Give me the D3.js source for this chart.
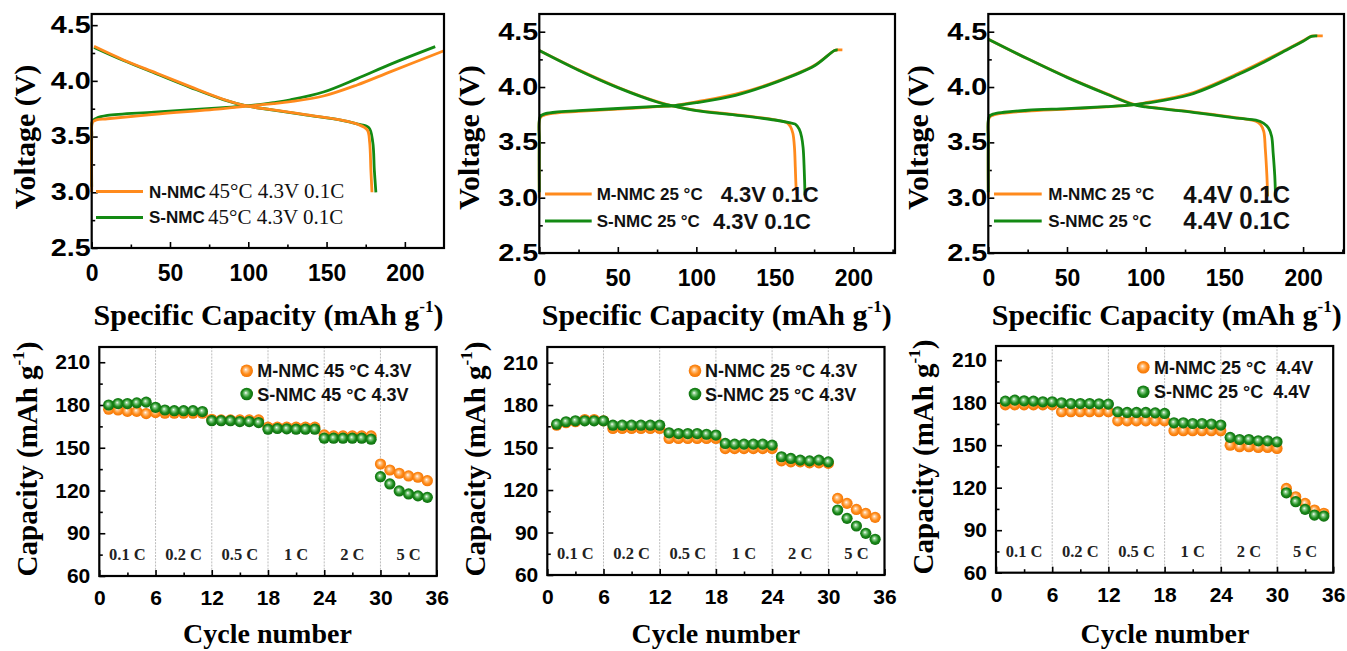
<!DOCTYPE html>
<html><head><meta charset="utf-8">
<script src="https://cdn.jsdelivr.net/npm/d3@7"></script>
<style>
body{margin:0;background:#fff;}
svg{display:block;}
</style></head><body>
<svg id="c" width="1347" height="651"></svg>
<script>
// ================= DATA =================
const voltTicks = [2.5, 3.0, 3.5, 4.0, 4.5];
const voltMinor = [2.75, 3.25, 3.75, 4.25];
const capTicks = [0, 50, 100, 150, 200];
const capMinor = [25, 75, 125, 175, 225];
const cycTicks = [0, 6, 12, 18, 24, 30, 36];
const cycMinor = [3, 9, 15, 21, 27, 33];
const capyTicks = [60, 90, 120, 150, 180, 210];
const capyMinor = [75, 105, 135, 165, 195];
const rateLabels = ["0.1 C", "0.2 C", "0.5 C", "1 C", "2 C", "5 C"];
const rateCenters = [3, 9, 15, 21, 27, 33];
const rateBounds = [6, 12, 18, 24, 30];
const cycles = [1,2,3,4,5,6,7,8,9,10,11,12,13,14,15,16,17,18,19,20,21,22,23,24,25,26,27,28,29,30,31,32,33,34,35];

// Panel A: 45 °C 4.3 V 0.1C (capacity mAh/g, voltage V)
const aOrangeCharge = [[0,3.0],[0,3.5],[0.5,3.63],[3,3.65],[10,3.66],[40,3.70],[84,3.75],[99,3.773],[116,3.795],[127,3.813],[148,3.864],[169.5,3.963],[191,4.083],[225,4.27]];
const aGreenCharge  = [[0,3.05],[0,3.5],[0.5,3.64],[3,3.665],[10,3.69],[40,3.72],[84,3.76],[99,3.775],[116,3.805],[127,3.83],[148,3.90],[169.5,4.02],[191,4.15],[219.4,4.307]];
const aOrangeDisch  = [[1.5,4.31],[20,4.19],[41.6,4.068],[62.9,3.948],[84,3.835],[99,3.775],[116,3.74],[137.5,3.694],[159,3.649],[170,3.61],[176,3.56],[177.5,3.45],[178.3,3.2],[179,3.0]];
const aGreenDisch   = [[1.5,4.30],[20,4.185],[41.6,4.062],[62.9,3.942],[84,3.832],[99,3.775],[116,3.738],[137.5,3.692],[159,3.648],[170,3.612],[177,3.58],[179.5,3.45],[180.5,3.2],[181.5,3.0]];

// Panel B: 25 °C 4.3 V 0.1C
const bOrangeCharge = [[0,3.0],[0,3.5],[0.5,3.72],[3,3.745],[10,3.765],[25,3.78],[50,3.80],[75,3.822],[85,3.83],[100,3.866],[125,3.935],[150,4.045],[175,4.195],[188,4.33],[190,4.335],[193,4.335]];
const bGreenCharge  = [[0,3.05],[0,3.5],[0.5,3.73],[3,3.755],[10,3.772],[25,3.786],[50,3.806],[75,3.825],[85,3.83],[100,3.858],[125,3.925],[150,4.04],[175,4.19],[188,4.33],[190,4.335]];
const bOrangeDisch  = [[0,4.33],[25,4.155],[50,3.998],[75,3.868],[85,3.829],[100,3.79],[125,3.75],[150,3.704],[158,3.675],[160,3.64],[161.5,3.58],[162.5,3.45],[163,3.28],[163.5,3.1],[164,3.02]];
const bGreenDisch   = [[0,4.33],[25,4.152],[50,3.995],[75,3.865],[85,3.829],[100,3.786],[125,3.747],[150,3.702],[160,3.675],[163,3.665],[165.5,3.62],[167,3.55],[168,3.45],[168.7,3.25],[169.2,3.02]];

// Panel C: 25 °C 4.4 V 0.1C
const cOrangeCharge = [[0,3.0],[0,3.5],[0.5,3.72],[3,3.745],[10,3.765],[25,3.782],[50,3.80],[75,3.82],[92,3.84],[100,3.858],[128,3.94],[159.8,4.13],[175,4.235],[191.6,4.355],[200,4.418],[205.3,4.46],[207,4.462],[212.5,4.462]];
const cGreenCharge  = [[0,3.05],[0,3.5],[0.5,3.73],[3,3.755],[10,3.772],[25,3.79],[50,3.805],[75,3.822],[92,3.838],[100,3.854],[128,3.93],[159.8,4.12],[175,4.225],[191.6,4.35],[200,4.413],[205.3,4.458],[209,4.462]];
const cOrangeDisch  = [[0,4.432],[25,4.255],[50,4.09],[75,3.94],[92,3.845],[100,3.822],[128,3.778],[159.8,3.718],[170,3.692],[173,3.66],[175,3.6],[176,3.44],[177,3.2],[177.5,3.01]];
const cGreenDisch   = [[0,4.432],[25,4.255],[50,4.087],[75,3.937],[92,3.842],[100,3.82],[128,3.776],[159.8,3.716],[170,3.70],[175,3.672],[178,3.63],[180,3.555],[181,3.4],[182,3.2],[182.5,3.01]];

// Rate capability (mAh/g) for cycles 1..35
const dOrange = [177,176.5,175.5,175.5,174,174.7,174.2,174.2,174.2,174.2,174.2,170,169.5,169.5,169.5,169.5,169.5,164.5,164.5,164.5,164.5,164.5,164.5,159,158.3,158.3,158.3,158.3,158.3,138.6,134.4,132.1,130.2,129.3,126.9];
const dGreen  = [180,181,181,181.5,182,178.4,176.5,176,176,176,175.4,169,169,169,168.4,168.4,167.7,163,163.5,163.3,163,163,163,156.7,156.7,156.7,156.7,156.7,156,129.7,124.6,119.7,117.6,116.2,115.2];
const eOrange = [165.8,167.5,168.2,169.8,169.8,168.9,163.5,163.5,163.5,163.5,163.5,163.5,156.4,156.4,156.4,156.4,156.4,156.4,149.3,149.3,149.3,149.3,149.3,149.3,140.6,139.9,139.9,139.2,139.2,138.8,114.1,110.6,106.3,103.5,100.7];
const eGreen  = [166.5,168.2,168.9,168.9,168.9,168.9,165.8,165.8,165.8,165.8,165.8,165.8,160.4,159.9,159.9,159.9,159.4,158.8,152.9,152.4,152.4,152.4,152.4,151.7,143.5,142.3,141.1,140.6,141.1,139.9,105.9,100,94.6,89.4,85.2];
const fOrange = [178.5,178.5,178.5,178.5,178.5,178.5,173.6,173.6,173.6,173.6,173.6,173.6,167.2,167.2,167.2,167.2,167.2,167.2,160.2,160.2,160.2,160.2,160.2,160.2,150,148.9,148.9,148.4,148.4,147.7,119.5,113.6,108.9,104.2,101.9];
const fGreen  = [181.1,181.8,181.3,181.1,180.6,180.6,179.9,179.4,179.4,179.4,179.2,179,173.6,173.1,173.1,173.1,172.8,172.4,165.8,165.8,165.3,165.3,164.9,164.2,155.5,154,154,153.1,153.1,152.4,116.4,110.1,104.7,100.7,100];

// ================= STYLE =================
const ORANGE = "#ff8a1c";
const GREEN = "#138a13";
const SANS = "'Liberation Sans', Arial, sans-serif";
const SERIF = "'Liberation Serif', 'Times New Roman', serif";

const svg = d3.select("#c");
const defs = svg.append("defs");
function ballGrad(id, c0, c1, c2) {
  const g = defs.append("radialGradient").attr("id", id)
    .attr("cx", "50%").attr("cy", "50%").attr("r", "55%").attr("fx", "42%").attr("fy", "40%");
  g.append("stop").attr("offset", "0%").attr("stop-color", "#ffffff");
  g.append("stop").attr("offset", "22%").attr("stop-color", c0);
  g.append("stop").attr("offset", "60%").attr("stop-color", c1);
  g.append("stop").attr("offset", "100%").attr("stop-color", c2);
}
ballGrad("gOr", "#ffc890", "#ff8c1a", "#f07000");
ballGrad("gGr", "#8fcf8f", "#1c8c1c", "#0a650a");

// ================= TOP PANELS =================
function topPanel(cfg) {
  const x = d3.scaleLinear().domain(cfg.xDom).range([cfg.L, cfg.R]);
  const y = d3.scaleLinear().domain(cfg.yDom).range([cfg.B, cfg.T]);
  const g = svg.append("g");
  const line = d3.line().x(d => x(d[0])).y(d => y(d[1])).curve(d3.curveCatmullRom.alpha(0.5));

  const xa = g.append("g").attr("transform", `translate(0,${cfg.B})`)
    .call(d3.axisBottom(x).tickValues(capTicks).tickSize(-6).tickPadding(17).tickFormat(d3.format("d")));
  g.append("g").attr("transform", `translate(0,${cfg.B})`)
    .call(d3.axisBottom(x).tickValues(capMinor.filter(v => v < cfg.xDom[1])).tickSize(-3.5).tickFormat(""));
  const ya = g.append("g").attr("transform", `translate(${cfg.L},0)`)
    .call(d3.axisLeft(y).tickValues(voltTicks).tickSize(-6).tickPadding(1).tickFormat(d3.format(".1f")));
  g.append("g").attr("transform", `translate(${cfg.L},0)`)
    .call(d3.axisLeft(y).tickValues(voltMinor).tickSize(-3.5).tickFormat(""));
  g.selectAll(".domain").remove();
  g.selectAll(".tick line").attr("stroke", "#000").attr("stroke-width", 1.6);
  xa.selectAll("text").attr("font-family", SANS).attr("font-weight", "bold").attr("font-size", 23).attr("fill", "#000");
  ya.selectAll("text").attr("font-family", SANS).attr("font-weight", "bold").attr("font-size", 23).attr("fill", "#000")
    .attr("textLength", 40).attr("lengthAdjust", "spacingAndGlyphs");

  cfg.series.forEach(s => {
    g.append("path").datum(s.data).attr("d", line).attr("fill", "none")
      .attr("stroke", s.color).attr("stroke-width", 2.8).attr("stroke-linejoin", "round");
  });

  g.append("rect").attr("x", cfg.L).attr("y", cfg.T).attr("width", cfg.R - cfg.L).attr("height", cfg.B - cfg.T)
    .attr("fill", "none").attr("stroke", "#000").attr("stroke-width", 2.2);

  cfg.legend.forEach(l => {
    g.append("line").attr("x1", l.lx1).attr("x2", l.lx2).attr("y1", l.ly).attr("y2", l.ly)
      .attr("stroke", l.color).attr("stroke-width", 3);
    l.texts.forEach(t => {
      g.append("text").attr("x", t.x).attr("y", t.y).text(t.s)
        .attr("font-family", t.serif ? SERIF : SANS).attr("font-weight", t.w || "bold")
        .attr("font-size", t.fs).attr("fill", "#111");
    });
  });

  const xt = g.append("text").attr("x", cfg.xtX).attr("y", 325).attr("text-anchor", "middle")
    .attr("font-family", SERIF).attr("font-weight", "bold").attr("font-size", 30).attr("fill", "#000");
  xt.append("tspan").text("Specific Capacity (mAh g");
  xt.append("tspan").attr("font-size", 17).attr("dy", -13).text("-1");
  xt.append("tspan").attr("dy", 13).text(")");
  g.append("text").attr("transform", `translate(${cfg.ytX},${cfg.ytY}) rotate(-90)`).attr("text-anchor", "middle")
    .attr("font-family", SERIF).attr("font-weight", "bold").attr("font-size", 30).attr("fill", "#000")
    .text("Voltage (V)");
}

topPanel({
  L: 91.7, R: 444, T: 14, B: 248, xDom: [0, 225], yDom: [2.5, 4.6],
  series: [
    {data: aGreenCharge, color: GREEN}, {data: aGreenDisch, color: GREEN},
    {data: aOrangeCharge, color: ORANGE}, {data: aOrangeDisch, color: ORANGE}
  ],
  legend: [
    {lx1: 96, lx2: 143, ly: 191.5, color: ORANGE, texts: [
      {x: 149, y: 197.5, s: "N-NMC", fs: 17}, {x: 209, y: 198, s: "45°C 4.3V 0.1C", fs: 21, serif: true, w: "normal"}]},
    {lx1: 96, lx2: 143, ly: 217.5, color: GREEN, texts: [
      {x: 149, y: 223, s: "S-NMC", fs: 17}, {x: 208, y: 223.5, s: "45°C 4.3V 0.1C", fs: 21, serif: true, w: "normal"}]}
  ],
  xtX: 268.5, ytX: 35, ytY: 137
});

topPanel({
  L: 539.3, R: 895, T: 14, B: 253, xDom: [0, 226.5], yDom: [2.5, 4.66],
  series: [
    {data: bOrangeCharge, color: ORANGE}, {data: bOrangeDisch, color: ORANGE},
    {data: bGreenCharge, color: GREEN}, {data: bGreenDisch, color: GREEN}
  ],
  legend: [
    {lx1: 545, lx2: 591.7, ly: 194, color: ORANGE, texts: [
      {x: 596.7, y: 200, s: "M-NMC 25 °C", fs: 17}, {x: 720.7, y: 201.5, s: "4.3V 0.1C", fs: 22}]},
    {lx1: 545, lx2: 591.7, ly: 221, color: GREEN, texts: [
      {x: 596.7, y: 227, s: "S-NMC 25 °C", fs: 17}, {x: 713, y: 228.5, s: "4.3V 0.1C", fs: 22}]}
  ],
  xtX: 716.7, ytX: 478.5, ytY: 137.5
});

topPanel({
  L: 988.3, R: 1344, T: 14, B: 253, xDom: [0, 226], yDom: [2.5, 4.66],
  series: [
    {data: cOrangeCharge, color: ORANGE}, {data: cOrangeDisch, color: ORANGE},
    {data: cGreenCharge, color: GREEN}, {data: cGreenDisch, color: GREEN}
  ],
  legend: [
    {lx1: 994, lx2: 1041.7, ly: 194, color: ORANGE, texts: [
      {x: 1048.3, y: 200, s: "M-NMC 25 °C", fs: 17}, {x: 1183.3, y: 203, s: "4.4V 0.1C", fs: 24}]},
    {lx1: 994, lx2: 1041.7, ly: 221, color: GREEN, texts: [
      {x: 1048.3, y: 227, s: "S-NMC 25 °C", fs: 17}, {x: 1183.3, y: 229, s: "4.4V 0.1C", fs: 24}]}
  ],
  xtX: 1166.7, ytX: 928.3, ytY: 137.5
});

// ================= BOTTOM PANELS =================
function botPanel(cfg) {
  const x = d3.scaleLinear().domain([0, 36]).range([cfg.L, cfg.R]);
  const y = d3.scaleLinear().domain(cfg.yDom).range([cfg.B, cfg.T]);
  const g = svg.append("g");

  g.selectAll(".sep").data(rateBounds).enter().append("line")
    .attr("x1", d => x(d)).attr("x2", d => x(d)).attr("y1", cfg.T).attr("y2", cfg.B)
    .attr("stroke", "#b5b5b5").attr("stroke-width", 0.9).attr("stroke-dasharray", "2,1.2");

  g.append("g").attr("transform", `translate(0,${cfg.B})`)
    .call(d3.axisBottom(x).tickValues(cycTicks).tickSize(-6).tickPadding(14));
  g.append("g").attr("transform", `translate(0,${cfg.B})`)
    .call(d3.axisBottom(x).tickValues(cycMinor).tickSize(-3.5).tickFormat(""));
  g.append("g").attr("transform", `translate(${cfg.L},0)`)
    .call(d3.axisLeft(y).tickValues(capyTicks).tickSize(-6).tickPadding(9));
  g.append("g").attr("transform", `translate(${cfg.L},0)`)
    .call(d3.axisLeft(y).tickValues(capyMinor).tickSize(-3.5).tickFormat(""));
  g.selectAll(".domain").remove();
  g.selectAll(".tick line").attr("stroke", "#000").attr("stroke-width", 1.6);
  g.selectAll(".tick text").attr("font-family", SANS).attr("font-weight", "bold").attr("font-size", 21).attr("fill", "#000");

  g.selectAll(".rl").data(rateLabels).enter().append("text")
    .attr("x", (d, i) => x(rateCenters[i])).attr("y", cfg.B - 16).attr("text-anchor", "middle")
    .attr("font-family", SERIF).attr("font-weight", "bold").attr("font-size", 16.5).attr("fill", "#222")
    .text(d => d);

  [[cfg.orange, "url(#gOr)"], [cfg.green, "url(#gGr)"]].forEach(([vals, fill]) => {
    g.selectAll(null).data(vals).enter().append("circle")
      .attr("cx", (d, i) => x(cycles[i])).attr("cy", d => y(d)).attr("r", 5.6).attr("fill", fill);
  });

  g.append("rect").attr("x", cfg.L).attr("y", cfg.T).attr("width", cfg.R - cfg.L).attr("height", cfg.B - cfg.T)
    .attr("fill", "none").attr("stroke", "#000").attr("stroke-width", 2.2);

  cfg.legend.forEach(l => {
    g.append("circle").attr("cx", l.mx).attr("cy", l.my).attr("r", 6.3).attr("fill", l.fill);
    g.append("text").attr("x", l.tx).attr("y", l.my + 6.5).text(l.s)
      .attr("font-family", SANS).attr("font-weight", "bold").attr("font-size", 18).attr("fill", "#111")
      .attr("xml:space", "preserve");
  });

  g.append("text").attr("x", cfg.xtX).attr("y", 643).attr("text-anchor", "middle")
    .attr("font-family", SERIF).attr("font-weight", "bold").attr("font-size", 28).attr("fill", "#000")
    .text("Cycle number");
  const yt = g.append("text").attr("transform", `translate(${cfg.ytX},${cfg.ytY}) rotate(-90)`).attr("text-anchor", "middle")
    .attr("font-family", SERIF).attr("font-weight", "bold").attr("font-size", 29).attr("fill", "#000");
  yt.append("tspan").text("Capacity (mAh g");
  yt.append("tspan").attr("font-size", 17).attr("dy", -13).text("-1");
  yt.append("tspan").attr("dy", 13).text(")");
}

botPanel({
  L: 99.3, R: 436.7, T: 347, B: 576, yDom: [60, 220.7],
  orange: dOrange, green: dGreen,
  legend: [
    {mx: 246.7, my: 370.7, fill: "url(#gOr)", tx: 257.3, s: "M-NMC 45 °C 4.3V"},
    {mx: 246.7, my: 394, fill: "url(#gGr)", tx: 257.3, s: "S-NMC 45 °C 4.3V"}
  ],
  xtX: 267.5, ytX: 36.5, ytY: 459
});
botPanel({
  L: 547.3, R: 884.5, T: 347, B: 575, yDom: [60, 221],
  orange: eOrange, green: eGreen,
  legend: [
    {mx: 695, my: 370.7, fill: "url(#gOr)", tx: 705, s: "N-NMC 25 °C 4.3V"},
    {mx: 695, my: 394, fill: "url(#gGr)", tx: 705, s: "S-NMC 25 °C 4.3V"}
  ],
  xtX: 715.8, ytX: 485, ytY: 459
});
botPanel({
  L: 996, R: 1333.2, T: 346, B: 572.7, yDom: [60, 220],
  orange: fOrange, green: fGreen,
  legend: [
    {mx: 1143.3, my: 367.3, fill: "url(#gOr)", tx: 1154, s: "M-NMC 25 °C  4.4V"},
    {mx: 1143.3, my: 391.7, fill: "url(#gGr)", tx: 1154, s: "S-NMC 25 °C  4.4V"}
  ],
  xtX: 1165, ytX: 933.3, ytY: 457
});
</script>
</body></html>
